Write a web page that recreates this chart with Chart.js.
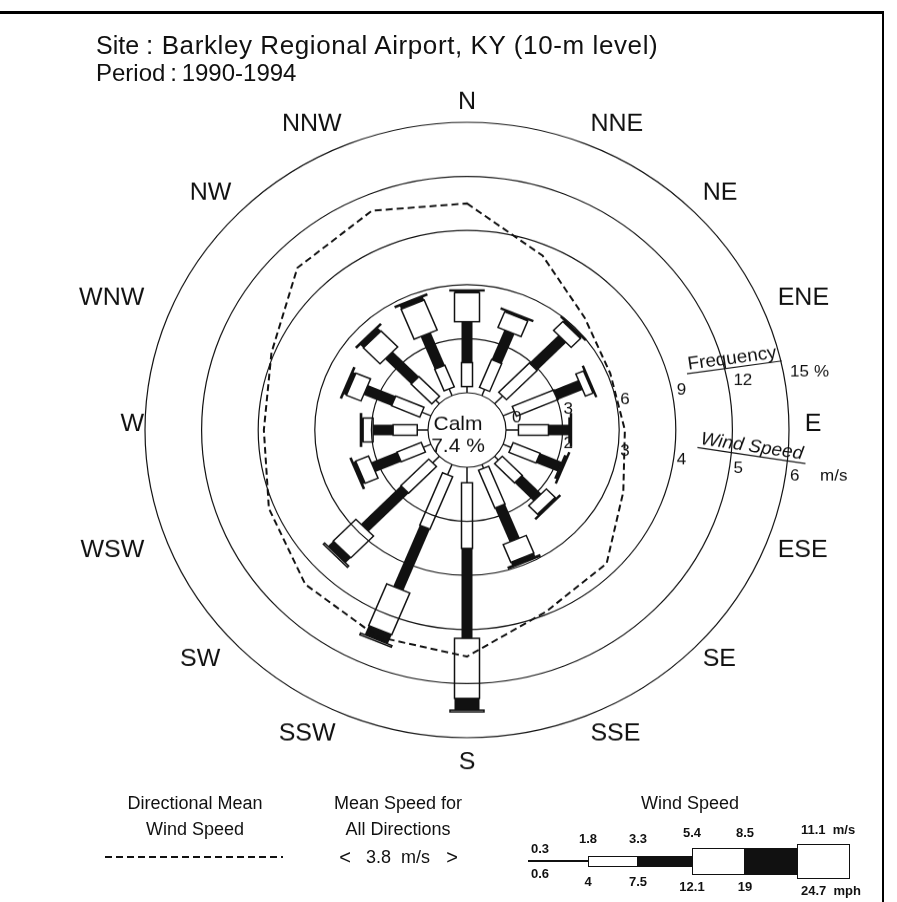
<!DOCTYPE html>
<html>
<head>
<meta charset="utf-8">
<script src="https://cdn.jsdelivr.net/npm/chart.js@4.4.1/dist/chart.umd.min.js"></script>
<style>
  html, body { margin: 0; padding: 0; background: #fff; }
  #page { position: relative; width: 897px; height: 902px; overflow: hidden;
          font-family: "Liberation Sans", Arial, sans-serif; color: #111; }
  #frame { position: absolute; left: 0; top: 11px; width: 882px; height: 900px;
           border-top: 3px solid #000; border-right: 2px solid #000; }
  /* the scanned original is a little flatter than it is wide */
  #roseWrap { position: absolute; left: 0; top: 0; width: 897px; height: 944px;
              transform: scaleY(0.9555); transform-origin: 0 0; }
  .t { position: absolute; white-space: pre; line-height: 1; }
  .box { position: absolute; box-sizing: border-box; border: 1.5px solid #111; background: #fff; }
  .blk { position: absolute; background: #111; }
</style>
</head>
<body>
<div id="page">
  <div id="frame"></div>
  <div id="roseWrap"><canvas id="rose" width="897" height="944"></canvas></div>
</div>
<script>
// 16 sectors, clockwise from north
const directions = ['N', 'NNE', 'NE', 'ENE', 'E', 'ESE', 'SE', 'SSE',
                    'S', 'SSW', 'SW', 'WSW', 'W', 'WNW', 'NW', 'NNW'];

// frequency (%) per speed class and direction
const freq03to18  = [0.34, 0.37, 0.60, 0.65, 0.66, 0.46, 0.29, 0.23, 0.86, 0.62, 0.51, 0.44, 0.57, 0.52, 0.28, 0.40];
const freq18to33  = [1.33, 1.67, 2.30, 2.39, 1.59, 1.55, 1.50, 2.27, 3.64, 3.15, 2.09, 1.39, 1.28, 1.62, 1.55, 1.30];
const freq33to54  = [2.27, 1.78, 2.18, 1.41, 1.09, 1.25, 1.43, 2.04, 4.99, 3.68, 3.00, 1.48, 1.06, 1.60, 1.96, 1.96];
const freq54to85  = [1.61, 0.93, 0.70, 0.44, 0.04, 0.08, 0.66, 1.06, 3.33, 2.50, 1.70, 0.74, 0.53, 0.84, 1.25, 1.80];
const freq85to111 = [0.10, 0.08, 0.10, 0.05, 0.04, 0.05, 0.08, 0.20, 0.65, 0.55, 0.40, 0.15, 0.08, 0.17, 0.25, 0.20];
const freqOver111 = [0.05, 0.05, 0.05, 0.05, 0.05, 0.05, 0.05, 0.08, 0.10, 0.10, 0.10, 0.06, 0.06, 0.06, 0.06, 0.06];

// directional mean wind speed (m/s)
const meanSpeed = [4.5, 3.8, 3.25, 3.05, 3.1, 3.3, 3.8, 3.95, 4.5, 4.45, 4.35, 4.1, 3.9, 4.05, 4.55, 4.7];

const freqTicks  = [0, 3, 6, 9, 12, 15];   // %
const speedTicks = [2, 3, 4, 5, 6];        // m/s, on the 3..15 % rings
const calmPct = 7.4;
const meanAll = 3.8;
const classMs  = ['0.3', '1.8', '3.3', '5.4', '8.5', '11.1'];
const classMph = ['0.6', '4', '7.5', '12.1', '19', '24.7'];

// wind speed is read on the same rings: 1 m/s at the calm circle, +1 m/s per 3 %
const speedToFreq = w => (w - 1) * 3;
const CALM_OFFSET = -2.067;   // radius of the calm circle, in % units

const classStyle = [
  { line: true },
  { w: 11, fill: false },
  { w: 11, fill: true },
  { w: 25, fill: false },
  { w: 25, fill: true },
  { w: 34, fill: false }
];
const classSeries = [freq03to18, freq18to33, freq33to54, freq54to85, freq85to111, freqOver111];

const roseBars = {
  id: 'roseBars',
  beforeDatasetsDraw(chart) {
    const s = chart.scales.r, ctx = chart.ctx;
    ctx.save();
    ctx.strokeStyle = '#111';
    ctx.fillStyle = '#111';
    ctx.lineWidth = 1.5;
    directions.forEach((d, i) => {
      ctx.save();
      ctx.translate(s.xCenter, s.yCenter);
      ctx.rotate(s.getIndexAngle(i));
      let cum = 0;
      classSeries.forEach((arr, k) => {
        const r0 = s.getDistanceFromCenterForValue(cum);
        cum += arr[i];
        const r1 = s.getDistanceFromCenterForValue(cum);
        const st = classStyle[k];
        if (st.line) {
          ctx.beginPath();
          ctx.moveTo(0, -r0);
          ctx.lineTo(0, -r1);
          ctx.stroke();
        } else if (st.fill) {
          ctx.fillRect(-st.w / 2, -r1, st.w, r1 - r0);
        } else {
          ctx.strokeRect(-st.w / 2, -r1, st.w, r1 - r0);
        }
      });
      ctx.restore();
    });
    ctx.restore();
  }
};

// small hand nudges for the western names, which sit a bit off-symmetric
const labelNudge = { SSW: -8, SW: -11, WSW: -12, W: 14, WNW: -12, NNW: -2 };

const roseText = {
  id: 'roseText',
  afterDraw(chart) {
    const s = chart.scales.r, ctx = chart.ctx;
    const cx = s.xCenter, cy = s.yCenter;
    ctx.save();
    ctx.fillStyle = '#111';
    ctx.strokeStyle = '#111';

    // direction names, placed just outside the outer ring
    ctx.font = '25px "Liberation Sans", Arial, sans-serif';
    ctx.textAlign = 'center';
    ctx.textBaseline = 'alphabetic';
    directions.forEach((d, i) => {
      const a = s.getIndexAngle(i);
      const sn = Math.sin(a), cs = Math.cos(a);
      const hw = ctx.measureText(d).width / 2;
      const x = cx + 346 * sn + Math.sign(Math.round(sn * 1000)) * Math.max(0, hw - 9) + (labelNudge[d] || 0);
      const y = cy - 345.5 * cs - 8.4 * Math.abs(sn);
      ctx.fillText(d, x, y + 9);
    });

    // calm
    ctx.font = '21px "Liberation Sans", Arial, sans-serif';
    ctx.fillText('Calm', cx - 9, cy);
    ctx.fillText(calmPct.toFixed(1) + ' %', cx - 9, cy + 23);

    // ring labels
    ctx.font = '17px "Liberation Sans", Arial, sans-serif';
    ctx.textAlign = 'left';
    freqTicks.forEach(v => {
      const x = cx + s.getDistanceFromCenterForValue(v) + (v === 0 ? 6 : 1);
      const y = (417 - v * 3.1) / 0.9555 + 6;
      ctx.fillText(String(v), x, y);
      if (v === 15) ctx.fillText('%', x + 24, y);
    });
    speedTicks.forEach(w => {
      const v = speedToFreq(w);
      const x = cx + s.getDistanceFromCenterForValue(v) + 1;
      const y = (434 + v * 2.75) / 0.9555 + 6;
      ctx.fillText(String(w), x, y);
      if (w === 6) ctx.fillText('m/s', x + 30, y);
    });

    // scale captions
    const caption = (txt, x, y, deg, italic) => {
      ctx.save();
      ctx.translate(x, y);
      ctx.rotate(deg * Math.PI / 180);
      ctx.font = (italic ? 'italic ' : '') + '19px "Liberation Sans", Arial, sans-serif';
      ctx.textAlign = 'center';
      ctx.fillText(txt, 0, 6);
      const w = ctx.measureText(txt).width;
      ctx.lineWidth = 1.2;
      ctx.beginPath();
      ctx.moveTo(-w / 2 - 2, 10);
      ctx.lineTo(w / 2 + 4, 10);
      ctx.stroke();
      ctx.restore();
    };
    caption('Frequency', 732, 358 / 0.9555, -8, false);
    caption('Wind Speed', 752, 446 / 0.9555, 8.8, true);
    ctx.restore();
  }
};

new Chart(document.getElementById('rose'), {
  type: 'radar',
  data: {
    labels: directions,
    datasets: [{
      label: 'Directional Mean Wind Speed',
      data: meanSpeed.map(speedToFreq),
      borderColor: '#111',
      borderWidth: 2,
      borderDash: [7, 4],
      fill: false,
      pointRadius: 0,
      tension: 0
    }]
  },
  options: {
    responsive: false,
    animation: false,
    events: [],
    layout: { padding: { left: 145, right: 108, top: 128, bottom: 172 } },
    plugins: { legend: { display: false }, tooltip: { enabled: false } },
    scales: {
      r: {
        min: CALM_OFFSET,
        max: 15,
        startAngle: 0,
        angleLines: { display: false },
        pointLabels: { display: false },
        ticks: { display: false },
        afterBuildTicks: axis => {
          axis.ticks = [CALM_OFFSET].concat(freqTicks).map(v => ({ value: v }));
        },
        grid: {
          circular: true,
          lineWidth: 1.2,
          color: c => (c.tick && c.tick.value < 0 ? 'rgba(0,0,0,0)' : '#111')
        }
      }
    }
  },
  plugins: [roseBars, roseText]
});

// page text and the speed-class key
const page = document.getElementById('page');
function addText(txt, x, yc, size, align, extra) {
  const el = document.createElement('div');
  el.className = 't';
  el.textContent = txt;
  el.style.fontSize = size + 'px';
  el.style.top = (yc - size * 0.49) + 'px';
  el.style.left = x + 'px';
  if (align === 'center') el.style.transform = 'translateX(-50%)';
  if (extra) Object.assign(el.style, extra);
  page.appendChild(el);
  return el;
}
function addDiv(cls, x, y, w, h) {
  const el = document.createElement('div');
  el.className = cls;
  Object.assign(el.style, { left: x + 'px', top: y + 'px', width: w + 'px', height: h + 'px' });
  page.appendChild(el);
}

addText('Site', 96, 45, 25);
addText(': Barkley Regional Airport, KY (10-m level)', 146, 45, 26, 'left', { letterSpacing: '0.6px' });
addText('Period\u2009:\u20091990-1994', 96, 73, 24);

addText('Directional Mean', 195, 803, 18, 'center');
addText('Wind Speed', 195, 829, 18, 'center');
const dash = document.createElement('div');
Object.assign(dash.style, {
  position: 'absolute', left: '105px', top: '856px', width: '178px', height: '2px',
  background: 'repeating-linear-gradient(90deg,#111 0 7px,transparent 7px 11px)'
});
page.appendChild(dash);

addText('Mean Speed for', 398, 803, 18, 'center');
addText('All Directions', 398, 829, 18, 'center');
addText('<', 345, 857, 20, 'center');
addText(meanAll.toFixed(1) + '  m/s', 398, 857, 18, 'center');
addText('>', 452, 857, 20, 'center');

addText('Wind Speed', 690, 803, 18, 'center');

// speed-class key
const keyEdges = [528, 588, 638, 692, 745, 797, 850];
const keyY = 861;
addDiv('blk', keyEdges[0], keyY - 0.75, keyEdges[1] - keyEdges[0], 1.5);
addDiv('box', keyEdges[1], keyY - 5.5, keyEdges[2] - keyEdges[1], 11);
addDiv('blk', keyEdges[2], keyY - 5.5, keyEdges[3] - keyEdges[2], 11);
addDiv('box', keyEdges[3], keyY - 13.5, keyEdges[4] - keyEdges[3], 27);
addDiv('blk', keyEdges[4], keyY - 13.5, keyEdges[5] - keyEdges[4], 27);
addDiv('box', keyEdges[5], keyY - 17.5, keyEdges[6] - keyEdges[5], 35);

const keyFont = { fontFamily: '"Liberation Sans Narrow", "Liberation Sans", Arial, sans-serif', fontWeight: 'bold' };
const topY = [848, 838, 838, 832, 832, 829];
const botY = [873, 881, 881, 886, 886, 890];
classMs.forEach((t, i) => {
  const x = i === 0 ? 540 : keyEdges[i];
  if (i === 5) addText(t + '  m/s', 801, topY[i], 13, 'left', keyFont);
  else addText(t, x, topY[i], 13, 'center', keyFont);
});
classMph.forEach((t, i) => {
  const x = i === 0 ? 540 : keyEdges[i];
  if (i === 5) addText(t + '  mph', 801, botY[i], 13, 'left', keyFont);
  else addText(t, x, botY[i], 13, 'center', keyFont);
});
</script>
</body>
</html>
